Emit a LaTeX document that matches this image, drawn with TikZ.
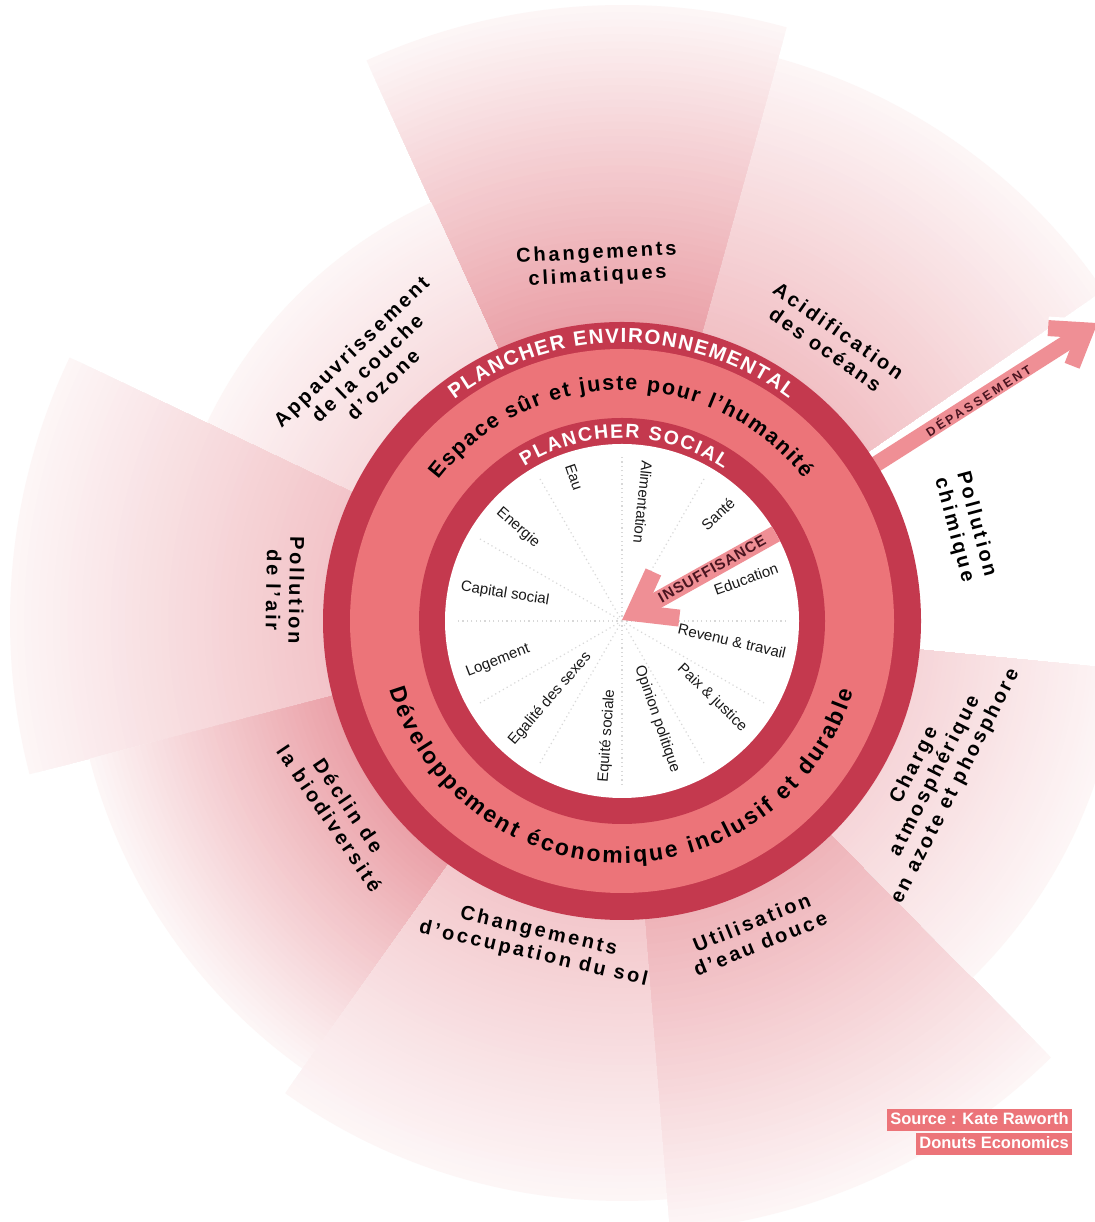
\documentclass[tikz,border=0pt]{standalone}
\usepackage{fontspec}
\setmainfont{Liberation Sans}
\newfontfamily\spacedfont[LetterSpace=14]{Liberation Sans}
\newfontfamily\insfont[LetterSpace=6]{Liberation Sans}
\newfontfamily\depfont[LetterSpace=22]{Liberation Sans}
\usetikzlibrary{decorations.text}

\definecolor{ringDark}{HTML}{C4394E}
\definecolor{ringPink}{HTML}{EC7479}
\definecolor{arrowPink}{HTML}{EF8F95}
\definecolor{arrowText}{HTML}{4A1520}
\definecolor{wedgeBase}{HTML}{E27A84}
\definecolor{dotGray}{HTML}{D8D8D8}

% stepped radial gradient sector: #1 = strength at ring (percent), #2 start angle, #3 end angle, #4 outer radius
\newcommand\wedgeat[4]{%
  \foreach \i in {0,...,44} {%
    \pgfmathsetmacro\rr{#4 - \i*(#4-295)/44}%
    \pgfmathsetmacro\pp{7 + (#1-7)*\i/44}%
    \fill[wedgeBase!\pp!white] (C) -- ([shift={(#2:\rr pt)}]C) arc[start angle=#2, end angle=#3, radius=\rr pt] -- cycle;
  }}

\newcommand\ringfontA{\bfseries\fontsize{20.5}{22}\selectfont}
\newcommand\ringfontS{\bfseries\fontsize{19.5}{21}\selectfont}
\newcommand\ringfontB{\bfseries\fontsize{21.5}{23}\selectfont}
\newcommand\ringfontC{\bfseries\fontsize{23}{25}\selectfont}

\tikzset{
  outerlabel/.style={align=center, font=\spacedfont\bfseries\fontsize{20}{23}\selectfont, text=black, inner sep=0pt},
  innerlabel/.style={font=\fontsize{15}{17}\selectfont, text=black!90, inner sep=0pt},
  srcbox/.style={fill=ringPink, text=white, font=\bfseries\fontsize{16.5}{18}\selectfont, inner xsep=3pt, inner ysep=3pt, text height=12pt, text depth=3.5pt},
  arrowshaft/.style={arrowPink, line width=17pt},
}

\begin{document}
\begin{tikzpicture}[x=1pt,y=1pt]
\useasboundingbox (0,0) rectangle (1094,1222);
\fill[white] (0,0) rectangle (1094,1222);
\coordinate (C) at (622,601);

% planetary boundary wedges (fading outward)
\wedgeat{48}{34.5}{74.5}{584}
\wedgeat{72}{74.5}{114.5}{616}
\wedgeat{28}{114.5}{154.5}{460}
\wedgeat{45}{154.5}{194.5}{612}
\wedgeat{72}{194.5}{234.5}{550}
\wedgeat{42}{234.5}{274.5}{580}
\wedgeat{58}{274.5}{314.5}{612}
\wedgeat{32}{314.5}{354.5}{500}

% overshoot arrow
\coordinate (depTail) at (870.9,754.6);
\coordinate (depA) at (1086,891.6);
\coordinate (depB1) at (1048.1,893.9);
\coordinate (depB2) at (1072.1,856.2);
\draw[white, line width=23pt] (depTail) -- (depA);
\draw[white, line width=23pt, line join=miter] (depB1) -- (depA) -- (depB2);
\draw[arrowPink, line width=16pt] (depTail) -- (depA);
\draw[arrowPink, line width=16pt, line join=miter] (depB1) -- (depA) -- (depB2);
\node[rotate=32.5, text=arrowText, font=\depfont\bfseries\fontsize{12.5}{14}\selectfont, inner sep=0pt] (dep) at (978,822) {DÉPASSEMENT};

% rings
\fill[ringDark] (C) circle[radius=299pt];
\fill[ringPink] (C) circle[radius=272pt];
\fill[ringDark] (C) circle[radius=203pt];
\fill[white] (C) circle[radius=177pt];

% ring texts
\path[decorate, decoration={text along path, text={|\ringfontA|PLANCHER ENVIRONNEMENTAL}, text align=fit to path, text color=white}]
  ([shift={(127.1:278pt)}]C) arc[start angle=127.1, end angle=53.1, radius=278pt];
\path[decorate, decoration={text along path, text={|\ringfontB|Espace sûr et juste pour l’humanité}, text align=fit to path, text color=black}]
  ([shift={(142.4:231pt)}]C) arc[start angle=142.4, end angle=38.1, radius=231pt];
\path[decorate, decoration={text along path, text={|\ringfontS|PLANCHER SOCIAL}, text align=fit to path, text color=white}]
  ([shift={(122.2:183pt)}]C) arc[start angle=122.2, end angle=56.2, radius=183pt];
\path[decorate, decoration={text along path, text={|\ringfontC|Développement économique inclusif et durable}, text align=fit to path, text color=black}]
  ([shift={(196.4:242pt)}]C) arc[start angle=196.4, end angle=343, radius=242pt];

% dotted dividers
\foreach \a in {0,30,...,330}
  \draw[dotGray, line width=1.2pt, dash pattern=on 1.2pt off 3.2pt] (C) -- ([shift={(\a:165pt)}]C);

% shortfall arrow
\coordinate (insA) at (634.6,609.1);
\coordinate (insB1) at (653.4,650);
\coordinate (insB2) at (679.3,603.9);
\coordinate (insTail) at (813,709);
\begin{scope}
  \clip (C) circle[radius=177pt];
  \draw[arrowshaft] (insA) -- (insTail);
\end{scope}
\draw[arrowshaft, line join=miter] (insB1) -- (insA) -- (insB2);
\node[rotate=29.3, text=arrowText, font=\insfont\bfseries\fontsize{15}{17}\selectfont, inner sep=0pt] (ins) at (712,653) {INSUFFISANCE};

% social foundation labels
\node[innerlabel, rotate=-96] (alim) at (643,720) {Alimentation};
\node[innerlabel, rotate=43] (sante) at (718,708) {Santé};
\node[innerlabel, rotate=20] (educ) at (746,643) {Education};
\node[innerlabel, rotate=-13] (rev) at (732,581) {Revenu \& travail};
\node[innerlabel, rotate=-44] (paix) at (712,524) {Paix \& justice};
\node[innerlabel, rotate=-71] (opin) at (657,503) {Opinion politique};
\node[innerlabel, rotate=86] (equi) at (607,486) {Equité sociale};
\node[innerlabel, rotate=49] (egal) at (550,523) {Egalité des sexes};
\node[innerlabel, rotate=21] (loge) at (498,561) {Logement};
\node[innerlabel, rotate=-9] (capi) at (505,628) {Capital social};
\node[innerlabel, rotate=-41] (ener) at (518,694) {Energie};
\node[innerlabel, rotate=-71] (eau) at (574,745) {Eau};

% planetary boundary labels
\node[outerlabel, rotate=3] (clim) at (597,957) {Changements\\climatiques};
\node[outerlabel, rotate=-35] (ocean) at (832,882) {Acidification\\des océans};
\node[outerlabel, rotate=-75] (chem) at (965,695) {Pollution\\chimique};
\node[outerlabel, rotate=63] (np) at (935,446) {Charge\\atmosphérique\\en azote et phosphore};
\node[outerlabel, rotate=22] (fresh) at (756,289) {Utilisation\\d’eau douce};
\node[outerlabel, rotate=-13] (land) at (536,279) {Changements\\d’occupation du sol};
\node[outerlabel, rotate=-56] (bio) at (339,410) {Déclin de\\la biodiversité};
\node[outerlabel, rotate=-91] (air) at (285,632) {Pollution\\de l’air};
\node[outerlabel, rotate=44] (ozone) at (367,854) {Appauvrissement\\de la couche\\d’ozone};

% source
\node[srcbox, anchor=south east] (src1) at (1072,91) {Source : Kate Raworth};
\node[srcbox, anchor=north east] (src2) at (1072,89) {Donuts Economics};
\end{tikzpicture}
\end{document}
